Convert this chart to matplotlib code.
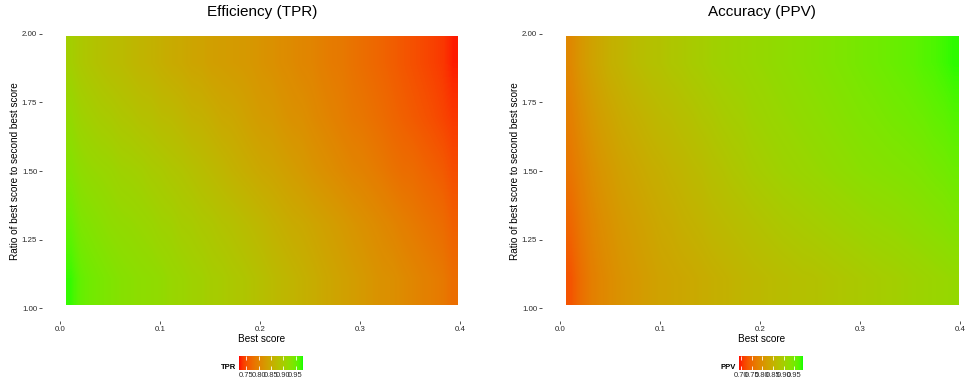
import numpy as np
import matplotlib
matplotlib.use("Agg")
import matplotlib.pyplot as plt
from matplotlib.colors import ListedColormap, Normalize

plt.rcParams['font.family'] = ['Liberation Sans', 'DejaVu Sans']

# tile grid (best score columns, ratio rows)
best_score = [0.01 * (i + 1) for i in range(39)]
ratio_rows = [1.1, 1.3, 1.5, 1.7, 1.9]

# TPR, one list per ratio row (bottom to top)
tpr_r11 = [0.972, 0.954, 0.946, 0.941, 0.936, 0.931, 0.928, 0.925, 0.923, 0.920,
           0.915, 0.912, 0.907, 0.905, 0.899, 0.897, 0.892, 0.889, 0.884, 0.879,
           0.873, 0.868, 0.863, 0.858, 0.853, 0.847, 0.842, 0.837, 0.832, 0.827,
           0.821, 0.816, 0.814, 0.808, 0.803, 0.798, 0.793, 0.788, 0.777]
tpr_r13 = [0.954, 0.938, 0.933, 0.928, 0.923, 0.920, 0.918, 0.915, 0.912, 0.907,
           0.905, 0.899, 0.897, 0.892, 0.889, 0.884, 0.881, 0.876, 0.871, 0.866,
           0.860, 0.855, 0.850, 0.847, 0.842, 0.837, 0.832, 0.827, 0.821, 0.816,
           0.811, 0.806, 0.801, 0.795, 0.790, 0.785, 0.780, 0.775, 0.764]
tpr_r15 = [0.933, 0.923, 0.918, 0.915, 0.912, 0.907, 0.905, 0.902, 0.897, 0.894,
           0.889, 0.886, 0.881, 0.876, 0.871, 0.866, 0.860, 0.855, 0.850, 0.845,
           0.842, 0.837, 0.832, 0.827, 0.821, 0.816, 0.811, 0.806, 0.801, 0.798,
           0.793, 0.788, 0.782, 0.777, 0.775, 0.769, 0.764, 0.759, 0.749]
tpr_r17 = [0.918, 0.907, 0.902, 0.897, 0.894, 0.889, 0.886, 0.881, 0.879, 0.873,
           0.871, 0.866, 0.860, 0.858, 0.853, 0.847, 0.845, 0.840, 0.834, 0.829,
           0.827, 0.821, 0.816, 0.814, 0.808, 0.803, 0.798, 0.793, 0.788, 0.785,
           0.780, 0.775, 0.769, 0.764, 0.759, 0.754, 0.749, 0.743, 0.736]
tpr_r19 = [0.902, 0.892, 0.886, 0.881, 0.876, 0.873, 0.868, 0.863, 0.860, 0.855,
           0.850, 0.847, 0.842, 0.840, 0.834, 0.832, 0.829, 0.827, 0.824, 0.819,
           0.816, 0.811, 0.808, 0.803, 0.801, 0.795, 0.790, 0.788, 0.782, 0.777,
           0.772, 0.767, 0.762, 0.756, 0.751, 0.746, 0.741, 0.736, 0.725]

# PPV
ppv_r11 = [0.729, 0.756, 0.774, 0.786, 0.795, 0.804, 0.810, 0.816, 0.822, 0.828,
           0.831, 0.834, 0.837, 0.841, 0.845, 0.849, 0.853, 0.857, 0.861, 0.864,
           0.867, 0.870, 0.873, 0.876, 0.877, 0.880, 0.883, 0.886, 0.889, 0.892,
           0.895, 0.898, 0.900, 0.903, 0.906, 0.909, 0.912, 0.915, 0.918]
ppv_r13 = [0.747, 0.768, 0.783, 0.795, 0.804, 0.813, 0.819, 0.825, 0.831, 0.837,
           0.840, 0.846, 0.850, 0.854, 0.860, 0.864, 0.868, 0.872, 0.876, 0.880,
           0.884, 0.888, 0.891, 0.894, 0.897, 0.900, 0.903, 0.906, 0.909, 0.912,
           0.915, 0.917, 0.919, 0.922, 0.925, 0.928, 0.931, 0.934, 0.939]
ppv_r15 = [0.765, 0.780, 0.795, 0.807, 0.816, 0.825, 0.831, 0.837, 0.843, 0.847,
           0.853, 0.857, 0.863, 0.867, 0.874, 0.878, 0.884, 0.888, 0.894, 0.898,
           0.902, 0.906, 0.909, 0.912, 0.915, 0.918, 0.921, 0.924, 0.927, 0.930,
           0.932, 0.934, 0.936, 0.938, 0.940, 0.943, 0.947, 0.950, 0.955]
ppv_r17 = [0.777, 0.795, 0.810, 0.822, 0.831, 0.840, 0.846, 0.852, 0.858, 0.864,
           0.867, 0.873, 0.877, 0.883, 0.887, 0.893, 0.897, 0.900, 0.906, 0.909,
           0.913, 0.916, 0.919, 0.922, 0.925, 0.928, 0.931, 0.934, 0.937, 0.940,
           0.942, 0.945, 0.948, 0.950, 0.953, 0.956, 0.961, 0.964, 0.970]
ppv_r19 = [0.789, 0.810, 0.825, 0.837, 0.849, 0.855, 0.864, 0.870, 0.876, 0.879,
           0.885, 0.888, 0.894, 0.897, 0.903, 0.906, 0.909, 0.912, 0.915, 0.918,
           0.921, 0.924, 0.927, 0.930, 0.933, 0.936, 0.939, 0.942, 0.945, 0.948,
           0.951, 0.954, 0.957, 0.960, 0.963, 0.969, 0.972, 0.978, 0.984]

tpr_limits = (0.72, 0.98)
ppv_limits = (0.69, 0.99)
tpr_breaks = [0.75, 0.80, 0.85, 0.90, 0.95]
ppv_breaks = [0.70, 0.75, 0.80, 0.85, 0.90, 0.95]


def srgb_to_lab(rgb):
    rgb = np.asarray(rgb, dtype=float)
    lin = np.where(rgb <= 0.04045, rgb / 12.92, ((rgb + 0.055) / 1.055) ** 2.4)
    m = np.array([[0.4124, 0.3576, 0.1805],
                  [0.2126, 0.7152, 0.0722],
                  [0.0193, 0.1192, 0.9505]])
    xyz = m @ lin / np.array([0.95047, 1.0, 1.08883])
    f = np.where(xyz > 0.008856, np.cbrt(xyz), 7.787 * xyz + 16 / 116)
    return np.array([116 * f[1] - 16, 500 * (f[0] - f[1]), 200 * (f[1] - f[2])])


def lab_to_srgb(lab):
    L, a, b = lab
    fy = (L + 16) / 116
    f = np.array([fy + a / 500, fy, fy - b / 200])
    xyz = np.where(f > 0.2069, f ** 3, (f - 16 / 116) / 7.787) * np.array([0.95047, 1.0, 1.08883])
    minv = np.array([[3.2406, -1.5372, -0.4986],
                     [-0.9689, 1.8758, 0.0415],
                     [0.0557, -0.2040, 1.0570]])
    lin = np.clip(minv @ xyz, 0, 1)
    rgb = np.where(lin <= 0.0031308, 12.92 * lin, 1.055 * lin ** (1 / 2.4) - 0.055)
    return np.clip(rgb, 0, 1)


# red -> green in Lab space, like ggplot's scale_fill_gradient
lab_lo = srgb_to_lab([1, 0, 0])
lab_hi = srgb_to_lab([0, 1, 0])
cmap = ListedColormap([lab_to_srgb(lab_lo + t * (lab_hi - lab_lo)) for t in np.linspace(0, 1, 256)])

W, H = 969, 385
fig = plt.figure(figsize=(W / 100, H / 100), dpi=100)


def px_box(x0, y0, x1, y1):
    return [x0 / W, 1 - y1 / H, (x1 - x0) / W, (y1 - y0) / H]


def draw_panel(x0, rows, limits, breaks, title, name):
    # x0 is the pixel column of best score 0.0; 1000 px per unit, 274 px per ratio unit
    ax = fig.add_axes(px_box(x0 - 18, 21, x0 + 418, 321))
    grid = np.array(rows)
    norm = Normalize(*limits)
    ax.imshow(grid, origin='lower', cmap=cmap, norm=norm, aspect='auto',
              interpolation='bilinear',
              extent=[best_score[0] - 0.004, best_score[-1] + 0.008, 1.01, 1.99])
    ax.set_xlim(-0.018, 0.418)
    ax.set_ylim(0.953, 2.047)
    ax.set_xticks([0.0, 0.1, 0.2, 0.3, 0.4])
    ax.set_xticklabels(['0.0', '0.1', '0.2', '0.3', '0.4'])
    ax.set_yticks([1.0, 1.25, 1.5, 1.75, 2.0])
    ax.set_yticklabels(['1.00', '1.25', '1.50', '1.75', '2.00'])
    for s in ax.spines.values():
        s.set_visible(False)
    ax.tick_params(length=2, width=0.6, color='#333333', labelsize=5.7,
                   labelcolor='#2b2b2b', pad=1.5)
    ax.set_xlabel('Best score', fontsize=7.2)
    ax.xaxis.set_label_coords((x0 + 202) / W, 1 - 334 / H, transform=fig.transFigure)
    ax.set_ylabel('Ratio of best score to second best score', fontsize=7.2)
    ax.yaxis.set_label_coords((x0 - 40) / W, 1 - 171 / H, transform=fig.transFigure)
    fig.text((x0 + 202) / W, 1 - 12 / H, title, fontsize=11, ha='center', va='center')

    # small horizontal colour bar under the panel
    cx = x0 + 179
    cax = fig.add_axes(px_box(cx, 356, cx + 64, 370))
    cb = fig.colorbar(plt.cm.ScalarMappable(norm=norm, cmap=cmap), cax=cax,
                      orientation='horizontal', ticks=breaks)
    cb.outline.set_visible(False)
    cb.ax.set_xticklabels([f'{b:.2f}' for b in breaks])
    cb.ax.tick_params(direction='in', length=3, width=0.6, color='white',
                      top=True, bottom=True, labelsize=5.5, labelcolor='#2b2b2b', pad=1.2)
    fig.text((cx - 3) / W, 1 - 371 / H, name, fontsize=5.5, fontweight='bold',
             ha='right', va='bottom')
    return ax


draw_panel(60, [tpr_r11, tpr_r13, tpr_r15, tpr_r17, tpr_r19], tpr_limits, tpr_breaks,
           'Efficiency (TPR)', 'TPR')
draw_panel(560, [ppv_r11, ppv_r13, ppv_r15, ppv_r17, ppv_r19], ppv_limits, ppv_breaks,
           'Accuracy (PPV)', 'PPV')

fig.savefig('out.png', dpi=100)
